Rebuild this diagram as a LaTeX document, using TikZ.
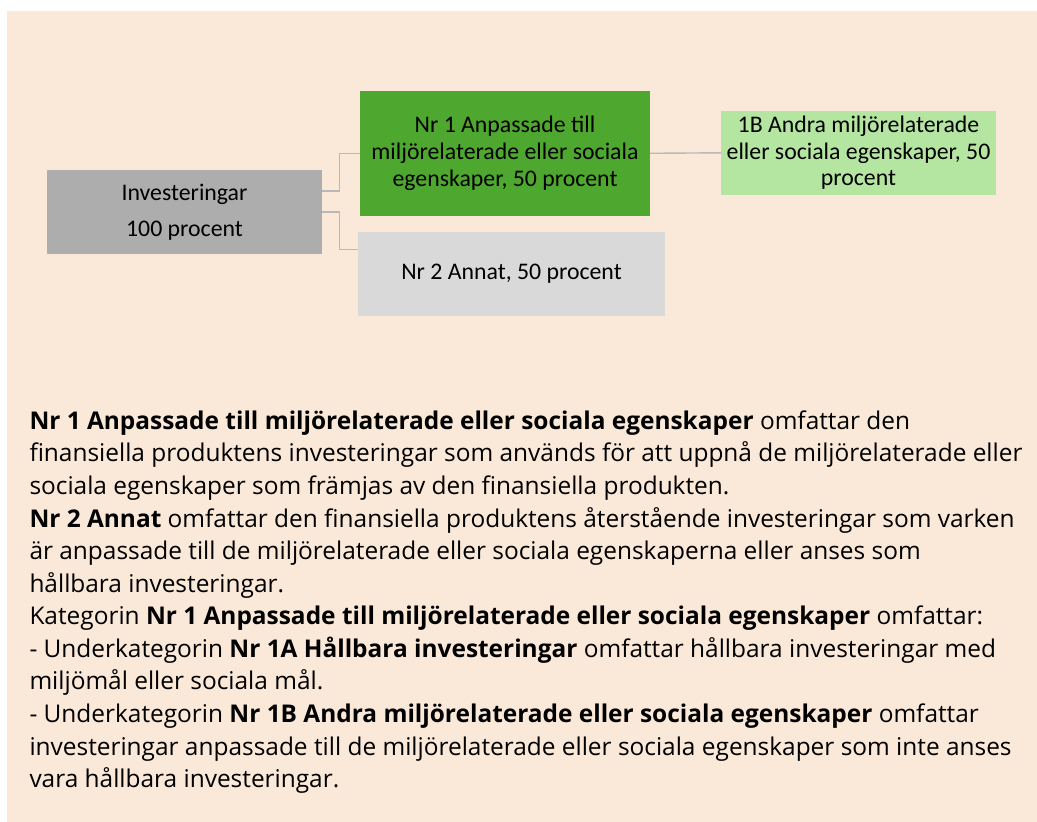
\documentclass[tikz,border=0pt]{standalone}
\usepackage{fontspec}
\setmainfont{Carlito}
\newfontfamily\bodyfont{Open Sans}
\usetikzlibrary{calc}
\definecolor{bgc}{RGB}{250,232,216}
\definecolor{invgray}{RGB}{173,173,173}
\definecolor{nrgreen}{HTML}{4EA72E}
\definecolor{lightgreen}{HTML}{B4E6A2}
\definecolor{nrtwo}{HTML}{D9D9D9}
\definecolor{connc}{RGB}{185,185,185}
\newlength\lineref
\tikzset{
  box/.style={draw=none, inner sep=0pt, align=center, text=black,
    font=\fontsize{23.8}{26.7}\selectfont},
  conn/.style={draw=connc, line width=1.4pt},
}
\begin{document}
\settowidth\lineref{\bodyfont\fontsize{10}{12}\selectfont finansiella produktens investeringar som används för att uppnå de miljörelaterade eller}%
\pgfmathsetmacro\bfs{10*993/\lineref}%
\begin{tikzpicture}[x=1pt, y=-1pt]
\useasboundingbox (0,0) rectangle (1037,822);
\fill[bgc] (7,11) rectangle (1037,822);
% boxes
\node[box, fill=invgray, minimum width=275pt, minimum height=83.7pt] (inv) at (184.5,211.8)
  {Investeringar\\[9.3pt]100 procent};
\node[box, fill=nrgreen, minimum width=290pt, minimum height=124.7pt] (nr1) at (505,153.3)
  {Nr 1 Anpassade till\\miljörelaterade eller sociala\\egenskaper, 50 procent};
\node[box, fill=nrtwo, minimum width=307pt, minimum height=83.7pt] (nr2) at (511.5,273.8)
  {Nr 2 Annat, 50 procent};
\node[box, fill=lightgreen, minimum width=275pt, minimum height=83.7pt] (b1) at (858.5,152.8)
  {1B Andra miljörelaterade\\eller sociala egenskaper, 50\\procent};
% connectors
\draw[conn] ($(inv.east)+(0,-21)$) -- ++(17,0) |- (nr1.west);
\draw[conn] (inv.east) -- ++(17,0) |- ($(nr2.north west)+(0,18)$);
\draw[conn] (nr1.east) -- (b1.west);
% body text (base anchor = last line baseline)
\node[anchor=base west, align=left, inner sep=0pt, text=black,
  font={\bodyfont\fontsize{\bfs pt}{32.58pt}\selectfont}] (body) at (29.3,787.7)
{\textbf{Nr 1 Anpassade till miljörelaterade eller sociala egenskaper} omfattar den\\
finansiella produktens investeringar som används för att uppnå de miljörelaterade eller\\
sociala egenskaper som främjas av den finansiella produkten.\\
\textbf{Nr 2 Annat} omfattar den finansiella produktens återstående investeringar som varken\\
är anpassade till de miljörelaterade eller sociala egenskaperna eller anses som\\
hållbara investeringar.\\
Kategorin \textbf{Nr 1 Anpassade till miljörelaterade eller sociala egenskaper} omfattar:\\
- Underkategorin \textbf{Nr 1A Hållbara investeringar} omfattar hållbara investeringar med\\
miljömål eller sociala mål.\\
- Underkategorin \textbf{Nr 1B Andra miljörelaterade eller sociala egenskaper} omfattar\\
investeringar anpassade till de miljörelaterade eller sociala egenskaper som inte anses\\
vara hållbara investeringar.};
\end{tikzpicture}
\end{document}
